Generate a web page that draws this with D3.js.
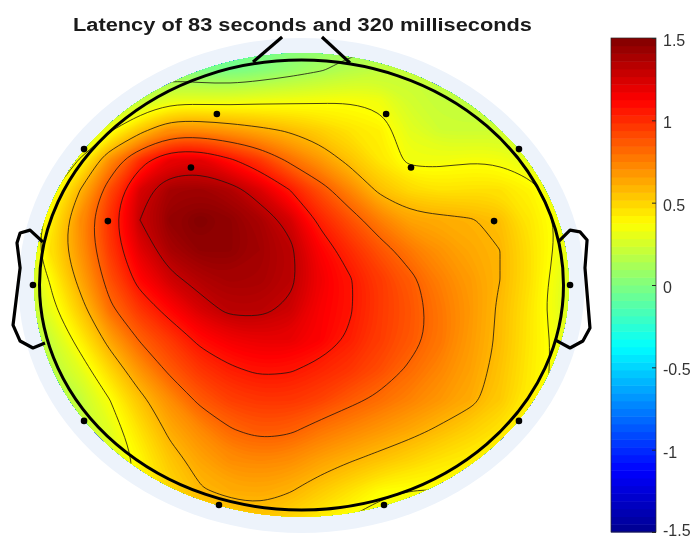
<!DOCTYPE html>
<html>
<head>
<meta charset="utf-8">
<script src="https://cdnjs.cloudflare.com/ajax/libs/d3/7.8.5/d3.min.js"></script>
<style>
    html, body { margin: 0; padding: 0; background: #fff; }
    svg { display: block; filter: blur(0.35px); }
    text { font-family: "Liberation Sans", Arial, sans-serif; }
</style>
</head>
<body>
<div id="topo"></div>
<script>
const titleText = "Latency of 83 seconds and 320 milliseconds";

// value grid (20 columns, 17 rows)
const gridCols = 20;
const gridRows = 17;
const gridValues = [
    .2,.15,.1,.05,.02,0,-.02,-.02,-.02,0,.04,.08,.1,.13,.15,.17,.18,.2,.2,.2,
    .2,.18,.15,.1,.05,.03,0,-.02,.02,.07,.12,.17,.2,.22,.2,.2,.2,.2,.2,.2,
    .2,.2,.18,.15,.2,.31,.31,.31,.33,.34,.35,.36,.34,.25,.21,.2,.2,.2,.2,.2,
    .2,.2,.22,.35,.55,.72,.72,.68,.63,.58,.52,.46,.42,.3,.24,.23,.24,.22,.2,.2,
    .2,.22,.38,.72,1.0,1.2,1.22,1.09,.97,.81,.69,.56,.45,.34,.34,.36,.35,.3,.25,.2,
    .25,.33,.6,.92,1.25,1.4,1.42,1.37,1.24,1.07,.9,.74,.57,.49,.46,.47,.47,.41,.3,.25,
    .2,.42,.72,1.0,1.31,1.45,1.5,1.46,1.39,1.26,1.04,.9,.76,.65,.63,.61,.57,.45,.35,.25,
    .2,.47,.7,.97,1.22,1.39,1.46,1.46,1.41,1.34,1.14,1.01,.89,.78,.7,.64,.6,.47,.34,.25,
    .15,.38,.64,.9,1.12,1.27,1.36,1.4,1.39,1.34,1.18,1.08,.97,.87,.76,.68,.6,.47,.31,.2,
    .15,.32,.54,.81,.98,1.12,1.25,1.34,1.34,1.28,1.15,1.08,.97,.89,.79,.69,.58,.45,.3,.2,
    .15,.22,.42,.65,.85,.97,1.1,1.17,1.2,1.2,1.14,1.05,.96,.88,.79,.68,.58,.45,.33,.25,
    .18,.18,.3,.5,.7,.87,.98,1.05,1.09,1.08,1.03,.98,.91,.82,.74,.66,.56,.44,.33,.25,
    .18,.18,.2,.37,.56,.72,.87,.95,.98,.98,.94,.87,.81,.75,.69,.63,.54,.43,.33,.25,
    .18,.18,.2,.3,.47,.63,.73,.83,.88,.86,.79,.74,.69,.64,.58,.52,.46,.4,.33,.25,
    .18,.18,.2,.28,.4,.55,.65,.72,.74,.72,.66,.61,.56,.51,.46,.43,.4,.37,.33,.25,
    .18,.18,.2,.3,.4,.5,.59,.63,.64,.61,.54,.47,.39,.37,.37,.36,.35,.35,.33,.25,
    .18,.18,.2,.3,.35,.42,.5,.52,.55,.5,.43,.36,.33,.33,.33,.33,.33,.33,.33,.25
];

// contour levels of the isolines
const isoLevels = [0.13, 0.37, 0.6, 0.84, 1.07, 1.31];

// colorbar
const barTicks = [-1.5, -1, -0.5, 0, 0.5, 1, 1.5];
const jetDomain = [-1.5, -1.125, -0.375, 0.375, 1.125, 1.5];
const jetRange = ["#00008f", "#0000ff", "#00ffff", "#ffff00", "#ff0000", "#800000"];
const jetSteps = 64;

// head drawing, in head units (ring radius = 1)
const electrodeX = [-.323, .323, -.83, .83, -.422, .418, -.739, .735, -1.025, 1.025, -.83, .83, -.315, .315];
const electrodeY = [.76, .76, .604, .604, .522, .522, .284, .284, 0, 0, -.604, -.604, -.978, -.978];
const noseLeft = [[-.185, .991], [-.074, 1.102]];
const noseRight = [[.078, 1.102], [.185, .987]];
const earLeft = [[-.987, .191], [-1.036, .244], [-1.074, .231], [-1.086, .187], [-1.074, .076],
    [-1.101, -.178], [-1.074, -.249], [-1.025, -.28], [-.979, -.258]];
const earRight = [[.979, .191], [1.025, .244], [1.063, .236], [1.09, .2], [1.082, .076],
    [1.101, -.191], [1.074, -.249], [1.025, -.28], [.968, -.244]];

const width = 700;
const height = 538;

const svg = d3.select("#topo").append("svg")
    .attr("width", width)
    .attr("height", height);

const headX = d3.scaleLinear().domain([-1, 1]).range([39.5, 563.5]);
const headY = d3.scaleLinear().domain([1, -1]).range([60, 510]);

const gridX = d3.scaleLinear().domain([0, gridCols - 1]).range([20, 590]);
const gridY = d3.scaleLinear().domain([0, gridRows - 1]).range([40, 520]);

const jet = d3.scaleLinear().domain(jetDomain).range(jetRange).clamp(true);
const stepWidth = 3 / jetSteps;
const stepEdges = d3.range(jetSteps).map(i => -1.5 + i * stepWidth);
// the map is painted in finer bands than the colorbar so it reads as smooth
const fillEdges = d3.range(-1.5, 1.5, 0.015);

// pale disc behind the map
const unitX = headX(1) - headX(0);
const unitY = headY(0) - headY(1);
svg.append("ellipse")
    .attr("cx", headX(0))
    .attr("cy", headY(0) + 0.5)
    .attr("rx", unitX * 1.08)
    .attr("ry", unitY * 1.1)
    .attr("fill", "#edf3fb");

svg.append("clipPath").attr("id", "map-clip")
    .append("ellipse")
    .attr("cx", headX(0))
    .attr("cy", headY(0))
    .attr("rx", unitX * 1.02)
    .attr("ry", unitY * 1.03);

const ringLine = d3.line()
    .x(p => gridX(p[0] - 0.5))
    .y(p => gridY(p[1] - 0.5))
    .curve(d3.curveBasisClosed);

function contourPath(geometry) {
    return geometry.coordinates
        .flatMap(polygon => polygon.map(ring => ringLine(ring.slice(0, -1))))
        .join("");
}

const contours = d3.contours().size([gridCols, gridRows]).smooth(true);

const map = svg.append("g").attr("clip-path", "url(#map-clip)");

// base colour under the lowest band
map.append("rect")
    .attr("x", gridX(0))
    .attr("y", gridY(0))
    .attr("width", gridX(gridCols - 1) - gridX(0))
    .attr("height", gridY(gridRows - 1) - gridY(0))
    .attr("fill", jet(0.2));

// filled bands, lowest first
map.append("g")
    .selectAll("path")
    .data(contours.thresholds(fillEdges)(gridValues))
    .join("path")
    .attr("fill-rule", "evenodd")
    .attr("d", contourPath)
    .attr("fill", d => jet(d.value));

// isolines
map.append("g")
    .selectAll("path")
    .data(contours.thresholds(isoLevels)(gridValues))
    .join("path")
    .attr("d", contourPath)
    .attr("fill", "none")
    .attr("stroke", "#1c1410")
    .attr("stroke-width", 0.8);

// head outline
svg.append("ellipse")
    .attr("cx", headX(0))
    .attr("cy", headY(0))
    .attr("rx", unitX)
    .attr("ry", unitY)
    .attr("fill", "none")
    .attr("stroke", "#000")
    .attr("stroke-width", 3);

const outline = d3.line().x(p => headX(p[0])).y(p => headY(p[1]));

svg.append("g")
    .selectAll("path")
    .data([noseLeft, noseRight, earLeft, earRight])
    .join("path")
    .attr("d", outline)
    .attr("fill", "none")
    .attr("stroke", "#000")
    .attr("stroke-width", 3.2)
    .attr("stroke-linejoin", "round");

svg.append("g")
    .selectAll("circle")
    .data(electrodeX)
    .join("circle")
    .attr("cx", d => headX(d))
    .attr("cy", (d, i) => headY(electrodeY[i]))
    .attr("r", 3.3)
    .attr("fill", "#000");

svg.append("text")
    .attr("x", 302.5)
    .attr("y", 31)
    .attr("text-anchor", "middle")
    .attr("font-size", 18)
    .attr("font-weight", "bold")
    .attr("fill", "#1a1a1a")
    .attr("textLength", 459)
    .attr("lengthAdjust", "spacingAndGlyphs")
    .text(titleText);

// colorbar
const barLeft = 611;
const barRight = 656;
const barScale = d3.scaleLinear().domain([-1.5, 1.5]).range([532, 38]);

svg.append("g")
    .selectAll("rect")
    .data(stepEdges)
    .join("rect")
    .attr("x", barLeft)
    .attr("width", barRight - barLeft)
    .attr("y", d => barScale(d + stepWidth))
    .attr("height", barScale(0) - barScale(stepWidth) + 0.5)
    .attr("fill", d => jet(d + stepWidth / 2));

svg.append("rect")
    .attr("x", barLeft)
    .attr("y", barScale(1.5))
    .attr("width", barRight - barLeft)
    .attr("height", barScale(-1.5) - barScale(1.5))
    .attr("fill", "none")
    .attr("stroke", "#262626")
    .attr("stroke-width", 0.7);

const barAxis = svg.append("g")
    .attr("transform", `translate(${barRight},0)`)
    .call(d3.axisRight(barScale)
        .tickValues(barTicks)
        .tickFormat(d => String(d))
        .tickSize(-4)
        .tickPadding(7));

barAxis.select(".domain").remove();
barAxis.selectAll("line").attr("stroke", "#262626");
barAxis.selectAll("text")
    .attr("font-size", 16)
    .attr("fill", "#333")
    // the last label would run off the bottom of the window
    .attr("dy", d => d === -1.5 ? "0.2em" : "0.47em");
</script>
</body>
</html>
